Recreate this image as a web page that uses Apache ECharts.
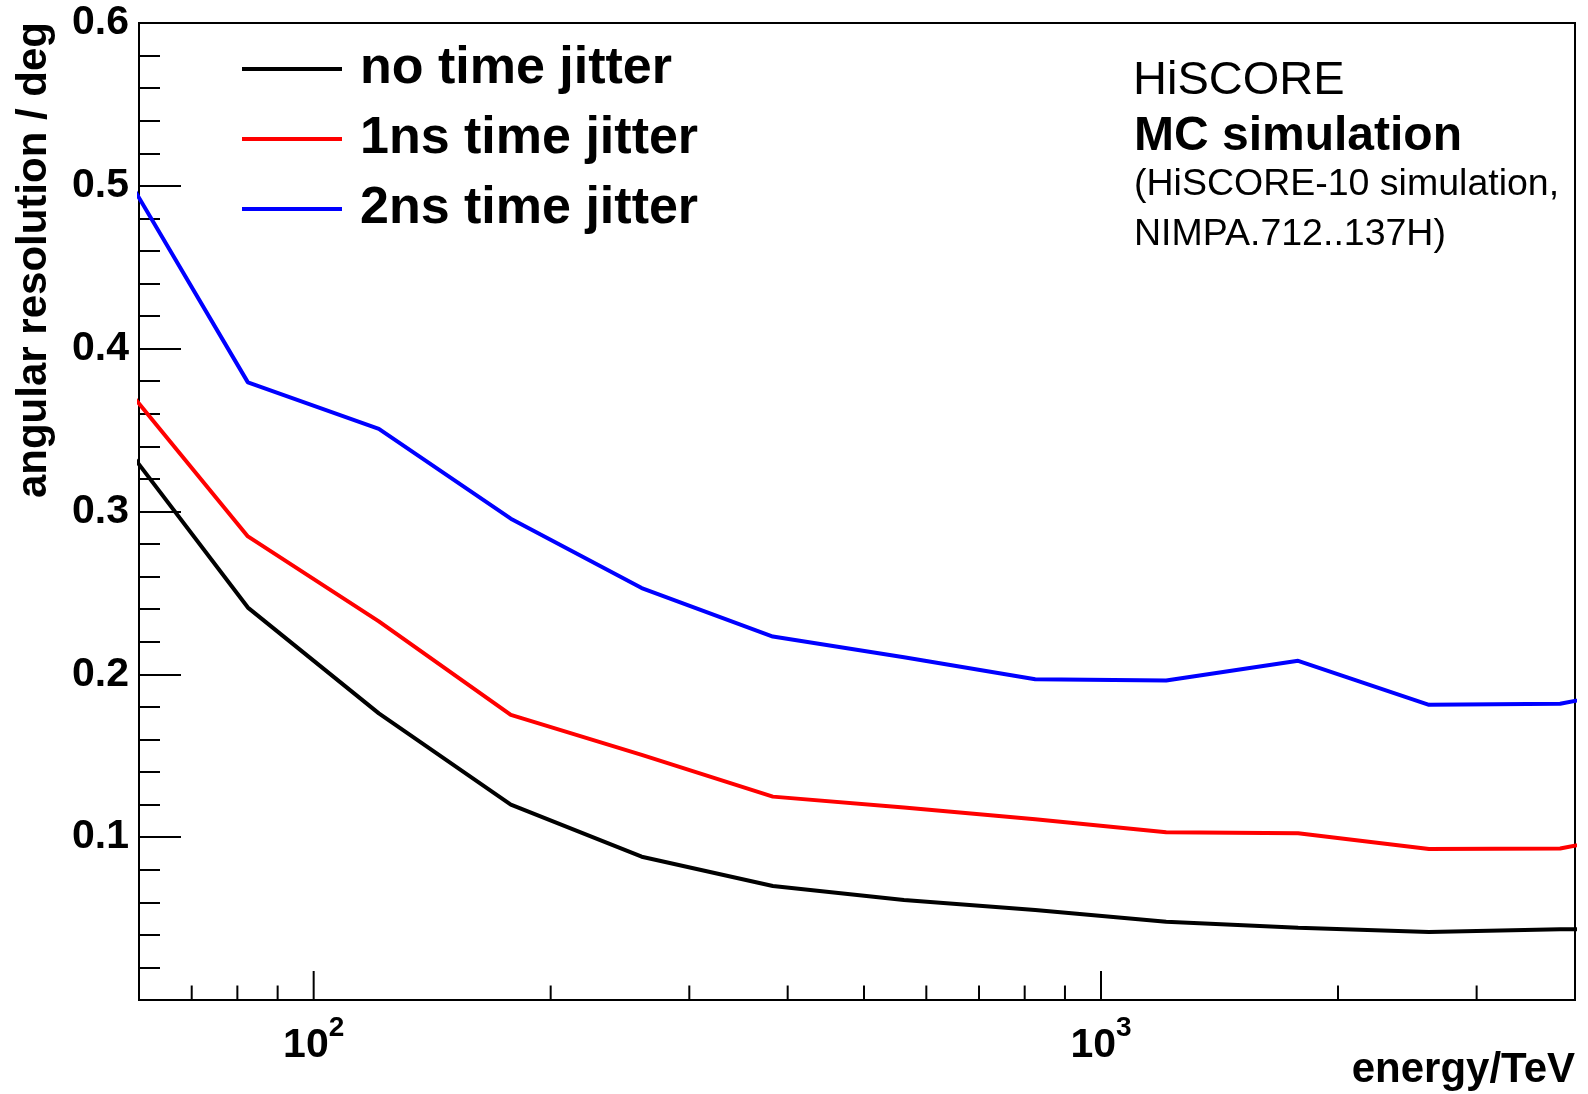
<!DOCTYPE html>
<html>
<head>
<meta charset="utf-8">
<title>Angular resolution vs energy</title>
<script src="https://cdn.jsdelivr.net/npm/echarts@6/dist/echarts.min.js"></script>
<style>
  html, body { margin: 0; padding: 0; background: #fff; }
  #chart { width: 1588px; height: 1094px; }
</style>
</head>
<body>
<div id="chart"></div>
<script>
// Energy bin centres (TeV), log-spaced
const energies = [56.2, 82.5, 121, 178, 261, 383, 562, 825, 1210, 1780, 2610, 3830, 5620];

// Angular resolution (deg) per jitter setting
const noJitter  = [0.347, 0.241, 0.176, 0.120, 0.088, 0.070, 0.0614, 0.0553, 0.0481, 0.0444, 0.0418, 0.0434, 0.0435];
const jitter1ns = [0.383, 0.2847, 0.2325, 0.1751, 0.1505, 0.1249, 0.1182, 0.1110, 0.1030, 0.1024, 0.0928, 0.0930, 0.109];
const jitter2ns = [0.516, 0.3793, 0.3508, 0.2956, 0.253, 0.2232, 0.2105, 0.197, 0.1962, 0.2083, 0.1813, 0.1819, 0.198];

const seriesNames = ['no time jitter', '1ns time jitter', '2ns time jitter'];
const seriesColors = ['#000000', '#ff0000', '#0000ff'];

// Tick positions on the logarithmic energy axis
const xMajorTicks = [100, 1000];
const xMinorTicks = [60, 70, 80, 90, 200, 300, 400, 500, 600, 700, 800, 900, 2000, 3000, 4000];

const FONT = '"Liberation Sans", Arial, Helvetica, sans-serif';

const chart = echarts.init(document.getElementById('chart'), null, { renderer: 'canvas' });

const pairs = vals => energies.map((e, i) => [e, vals[i]]);

const lineSeries = [noJitter, jitter1ns, jitter2ns].map((vals, i) => ({
  name: seriesNames[i],
  type: 'line',
  data: pairs(vals),
  color: seriesColors[i],
  symbol: 'none',
  showSymbol: false,
  clip: true,
  lineStyle: { width: 4, color: seriesColors[i] },
  z: 3
}));

const tickData = xMinorTicks.map(v => [v, 0]).concat(xMajorTicks.map(v => [v, 1]));

const option = {
  animation: false,
  backgroundColor: '#ffffff',
  grid: {
    left: 139, right: 13, top: 23, bottom: 94,
    show: true, borderColor: '#000', borderWidth: 2, backgroundColor: 'transparent'
  },
  legend: {
    orient: 'vertical',
    left: 237, top: 38,
    icon: 'rect',
    itemWidth: 100, itemHeight: 4, itemGap: 18,
    selectedMode: false,
    data: seriesNames,
    textStyle: {
      fontFamily: FONT, fontWeight: 'bold', fontSize: 52, color: '#000',
      lineHeight: 50, padding: [0, 0, 0, 13]
    }
  },
  xAxis: {
    type: 'log',
    logBase: 10,
    min: 60, max: 4000,
    axisLine: { show: true, lineStyle: { color: '#000', width: 2 } },
    axisTick: { show: false },
    splitLine: { show: false },
    axisLabel: {
      showMinLabel: false, showMaxLabel: false,
      margin: 14,
      formatter: v => {
        const l = Math.log10(v);
        const e = Math.round(l);
        if (Math.abs(l - e) > 1e-6) return '';
        return '{b|10}{s|' + e + '}';
      },
      rich: {
        b: { fontFamily: FONT, fontWeight: 'bold', fontSize: 41, color: '#000', lineHeight: 52, verticalAlign: 'bottom' },
        s: { fontFamily: FONT, fontWeight: 'bold', fontSize: 28, color: '#000', lineHeight: 28, verticalAlign: 'top' }
      }
    }
  },
  yAxis: {
    type: 'value',
    min: 0, max: 0.6, interval: 0.1,
    axisLine: { show: true, lineStyle: { color: '#000', width: 2 } },
    axisTick: { show: true, inside: true, length: 42, lineStyle: { color: '#000', width: 2 } },
    minorTick: { show: true, splitNumber: 5, length: 21, lineStyle: { color: '#000', width: 2 } },
    splitLine: { show: false },
    axisLabel: {
      margin: 10,
      fontFamily: FONT, fontWeight: 'bold', fontSize: 41, color: '#000',
      formatter: v => (v === 0 ? '' : v.toFixed(1))
    }
  },
  graphic: [
    {
      type: 'text', x: 34, y: 22, rotation: Math.PI / 2,
      style: {
        text: 'angular resolution / deg',
        font: 'bold 42px ' + FONT, fill: '#000',
        align: 'right', verticalAlign: 'middle'
      }
    },
    {
      type: 'text', x: 1575, y: 1070,
      style: {
        text: 'energy/TeV',
        font: 'bold 42px ' + FONT, fill: '#000',
        align: 'right', verticalAlign: 'middle'
      }
    },
    {
      type: 'text', x: 1133, y: 81,
      style: { text: 'HiSCORE', font: '47px ' + FONT, fill: '#000', align: 'left', verticalAlign: 'middle' }
    },
    {
      type: 'text', x: 1134, y: 137,
      style: { text: 'MC simulation', font: 'bold 48px ' + FONT, fill: '#000', align: 'left', verticalAlign: 'middle' }
    },
    {
      type: 'text', x: 1134, y: 185,
      style: { text: '(HiSCORE-10 simulation,', font: '37.5px ' + FONT, fill: '#000', align: 'left', verticalAlign: 'middle' }
    },
    {
      type: 'text', x: 1134, y: 235,
      style: { text: 'NIMPA.712..137H)', font: '37.5px ' + FONT, fill: '#000', align: 'left', verticalAlign: 'middle' }
    }
  ],
  series: lineSeries.concat([{
    name: 'energy ticks',
    type: 'custom',
    silent: true,
    clip: false,
    data: tickData,
    z: 4,
    renderItem: (params, api) => {
      const p = api.coord([api.value(0), 0]);
      const len = api.value(1) ? 29 : 14.5;
      return {
        type: 'line',
        shape: { x1: p[0], y1: p[1], x2: p[0], y2: p[1] - len },
        style: { stroke: '#000', lineWidth: 2 }
      };
    }
  }])
};

chart.setOption(option);
</script>
</body>
</html>
